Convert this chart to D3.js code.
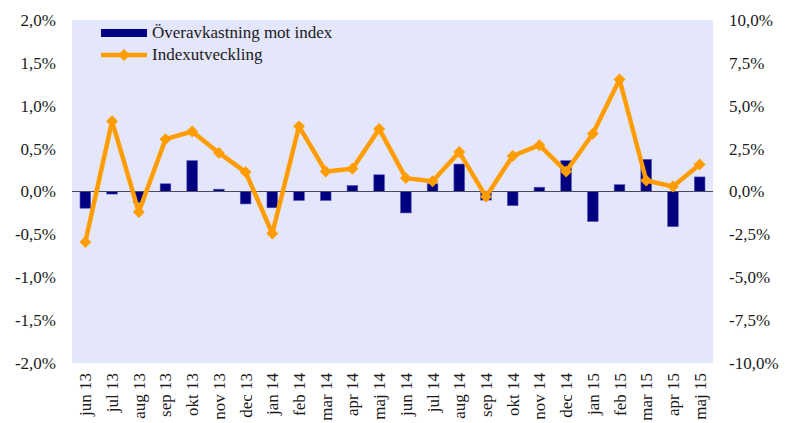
<!DOCTYPE html>
<html lang="sv">
<head>
  <meta charset="UTF-8" />
  <title>Överavkastning mot index</title>
  <style>
  body {
    margin: 0;
    background: #fff;
  }
  </style>
  <script src="https://d3js.org/d3.v7.min.js"></script>
</head>
<body>
  <div id="chart"></div>
  <script>
    // Månader (x-axel)
    const months = ["jun 13", "jul 13", "aug 13", "sep 13", "okt 13", "nov 13", "dec 13",
      "jan 14", "feb 14", "mar 14", "apr 14", "maj 14", "jun 14", "jul 14", "aug 14",
      "sep 14", "okt 14", "nov 14", "dec 14", "jan 15", "feb 15", "mar 15", "apr 15", "maj 15"];

    // Överavkastning mot index, % (vänster axel)
    const excessReturn = [-0.195, -0.03, -0.13, 0.09, 0.36, 0.027, -0.145, -0.19, -0.105, -0.105,
      0.07, 0.195, -0.25, 0.09, 0.32, -0.10, -0.165, 0.05, 0.36, -0.35, 0.08, 0.375, -0.41, 0.17];

    // Indexutveckling, % (höger axel)
    const indexChange = [-2.95, 4.1, -1.2, 3.05, 3.5, 2.25, 1.13, -2.45, 3.8, 1.17, 1.33, 3.65,
      0.78, 0.6, 2.3, -0.3, 2.07, 2.7, 1.17, 3.37, 6.53, 0.64, 0.29, 1.58];

    const leftTicks = [-2, -1.5, -1, -0.5, 0, 0.5, 1, 1.5, 2];
    const rightTicks = [-10, -7.5, -5, -2.5, 0, 2.5, 5, 7.5, 10];

    const width = 785, height = 423;
    const margin = { top: 20, right: 72, bottom: 60, left: 72 };
    const fontFamily = "'Liberation Serif', 'Times New Roman', Tinos, 'DejaVu Serif', 'Noto Serif', Times, serif";
    const orange = "#ff9c00";

    const fmt = d => d.toFixed(1).replace(".", ",") + "%";

    const svg = d3.select("#chart").append("svg")
      .attr("width", width)
      .attr("height", height)
      .style("font-family", fontFamily);

    const x = d3.scaleBand()
      .domain(months)
      .range([margin.left, width - margin.right])
      .paddingInner(0.6)
      .paddingOuter(0.3);

    const yLeft = d3.scaleLinear()
      .domain([-2, 2])
      .range([height - margin.bottom, margin.top]);

    const yRight = d3.scaleLinear()
      .domain([-10, 10])
      .range([height - margin.bottom, margin.top]);

    // Plot background
    svg.append("rect")
      .attr("x", margin.left)
      .attr("y", margin.top)
      .attr("width", width - margin.left - margin.right)
      .attr("height", height - margin.top - margin.bottom)
      .attr("fill", "#e4e6fb");

    // Bars
    svg.selectAll(".bar")
      .data(excessReturn)
      .enter().append("rect")
      .attr("class", "bar")
      .attr("x", (d, i) => x(months[i]))
      .attr("width", x.bandwidth())
      .attr("y", d => yLeft(Math.max(0, d)))
      .attr("height", d => Math.abs(yLeft(d) - yLeft(0)))
      .attr("fill", "#000080")
      .attr("stroke", "#5a5ab8")
      .attr("stroke-width", 0.6);

    // Zero line
    svg.append("line")
      .attr("x1", margin.left)
      .attr("x2", width - margin.right)
      .attr("y1", yLeft(0))
      .attr("y2", yLeft(0))
      .attr("stroke", "#4a4a5a")
      .attr("stroke-width", 1.2);

    // Index line
    const cx = (d, i) => x(months[i]) + x.bandwidth() / 2;
    const line = d3.line()
      .x(cx)
      .y(d => yRight(d));

    svg.append("path")
      .datum(indexChange)
      .attr("d", line)
      .attr("fill", "none")
      .attr("stroke", orange)
      .attr("stroke-width", 4.5)
      .attr("stroke-linejoin", "round");

    const diamond = d3.symbol().type(d3.symbolDiamond2).size(90);
    svg.selectAll(".marker")
      .data(indexChange)
      .enter().append("path")
      .attr("class", "marker")
      .attr("d", diamond)
      .attr("transform", (d, i) => `translate(${cx(d, i)},${yRight(d)})`)
      .attr("fill", orange);

    // Left axis labels
    svg.selectAll(".ltick")
      .data(leftTicks)
      .enter().append("text")
      .attr("x", 56)
      .attr("y", d => yLeft(d))
      .attr("dy", "0.35em")
      .attr("text-anchor", "end")
      .attr("font-size", 17)
      .attr("fill", "#1a1a1a")
      .text(fmt);

    // Right axis labels
    svg.selectAll(".rtick")
      .data(rightTicks)
      .enter().append("text")
      .attr("x", 729)
      .attr("y", d => yRight(d))
      .attr("dy", "0.35em")
      .attr("text-anchor", "start")
      .attr("font-size", 17)
      .attr("fill", "#1a1a1a")
      .text(fmt);

    // X labels (rotated)
    svg.selectAll(".xlabel")
      .data(months)
      .enter().append("text")
      .attr("transform", d => `translate(${x(d) + x.bandwidth() / 2 + 6},${height - margin.bottom + 10}) rotate(-90)`)
      .attr("text-anchor", "end")
      .attr("font-size", 17)
      .attr("fill", "#1a1a1a")
      .text(d => d);

    // Legend
    const legend = svg.append("g");
    legend.append("rect")
      .attr("x", 101).attr("y", 29)
      .attr("width", 46).attr("height", 8)
      .attr("fill", "#000080");
    legend.append("text")
      .attr("x", 152).attr("y", 32)
      .attr("dy", "0.35em")
      .attr("font-size", 17)
      .attr("fill", "#1a1a1a")
      .text("Överavkastning mot index");

    legend.append("line")
      .attr("x1", 101).attr("x2", 147)
      .attr("y1", 55).attr("y2", 55)
      .attr("stroke", orange)
      .attr("stroke-width", 4.5);
    legend.append("path")
      .attr("d", diamond)
      .attr("transform", "translate(124,55)")
      .attr("fill", orange);
    legend.append("text")
      .attr("x", 152).attr("y", 54)
      .attr("dy", "0.35em")
      .attr("font-size", 17)
      .attr("fill", "#1a1a1a")
      .text("Indexutveckling");
  </script>
</body>
</html>
